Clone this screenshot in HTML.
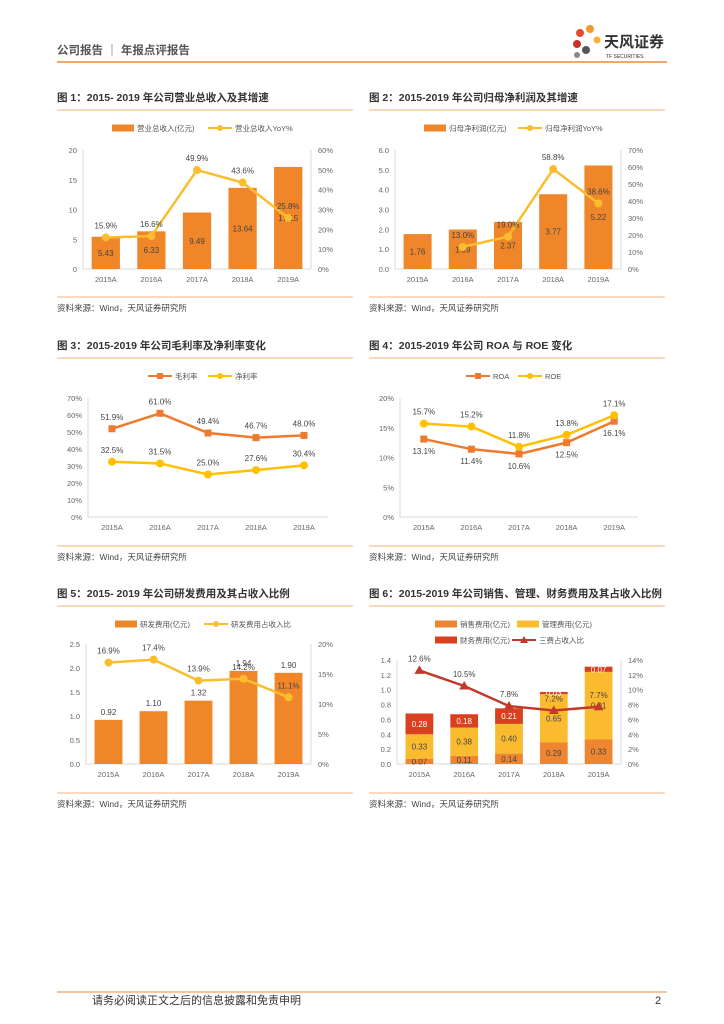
<!DOCTYPE html>
<html><head><meta charset="utf-8">
<style>
body{margin:0;background:#fff;}
svg{display:block;font-family:"Liberation Sans","Noto Sans CJK SC",sans-serif;}
</style></head>
<body>
<svg id="pg" width="724" height="1024" viewBox="0 0 724 1024">
<g>
<text x="57" y="54" font-size="11.5" font-weight="bold" fill="#555">公司报告 ｜ 年报点评报告</text>
<line x1="57" y1="62" x2="667" y2="62" stroke="#EE8C3A" stroke-width="1.5"/>
<g>
<circle cx="580" cy="33" r="4" fill="#E94B2B"/><circle cx="590" cy="29" r="4" fill="#F29A2E"/>
<circle cx="577" cy="44" r="4" fill="#C8322A"/><circle cx="586" cy="50" r="4" fill="#555"/>
<circle cx="597" cy="40" r="3.5" fill="#F5B335"/><circle cx="577" cy="55" r="3" fill="#888"/>
<text x="604" y="47" font-size="15" font-weight="bold" fill="#333">天风证券</text>
<text x="606" y="58" font-size="5" fill="#333">TF SECURITIES</text>
</g>
</g>
<g>
<line x1="57" y1="992" x2="667" y2="992" stroke="#EE8C3A" stroke-width="1"/>
<text x="92" y="1004" font-size="11" fill="#333">请务必阅读正文之后的信息披露和免责申明</text>
<text x="655" y="1004" font-size="11" fill="#333">2</text>
</g>
</svg>
<script>
const cats=['2015A','2016A','2017A','2018A','2019A'];
const revenue=[5.43,6.33,9.49,13.64,17.15];
const revenueYoY=[15.9,16.6,49.9,43.6,25.8];
const profit=[1.76,1.99,2.37,3.77,5.22];
const profitYoY=[null,13.0,19.0,58.8,38.6];
const grossMargin=[51.9,61.0,49.4,46.7,48.0];
const netMargin=[32.5,31.5,25.0,27.6,30.4];
const roa=[13.1,11.4,10.6,12.5,16.1];
const roe=[15.7,15.2,11.8,13.8,17.1];
const rdExpense=[0.92,1.10,1.32,1.94,1.90];
const rdRatio=[16.9,17.4,13.9,14.2,11.1];
const salesExp=[0.07,0.11,0.14,0.29,0.33];
const adminExp=[0.33,0.38,0.40,0.65,0.91];
const finExp=[0.28,0.18,0.21,0.03,0.07];
const expRatio=[12.6,10.5,7.8,7.2,7.7];
const NS='http://www.w3.org/2000/svg';
const pg=document.getElementById('pg');
function mk(tag,attrs,parent,txt){const e=document.createElementNS(NS,tag);for(const k in attrs)e.setAttribute(k,attrs[k]);if(txt!==undefined)e.textContent=txt;(parent||pg).appendChild(e);return e;}
const ORANGE='#F0862A',YELLOW='#FBBD2E';
function frame(g,c,title){
  let t=mk('text',{x:c.fx,y:c.ty,'font-size':10.5,'font-weight':'bold',fill:'#333'},g,title);
  
  
  let l=mk('line',{x1:c.fx,x2:c.fx+296,y1:c.ty+9,y2:c.ty+9,stroke:'#F3B27A','stroke-width':1},g);
  
  
  let l2=mk('line',{x1:c.fx,x2:c.fx+296,y1:c.sy,y2:c.sy,stroke:'#F3B27A','stroke-width':1},g);
  
  
  let s=mk('text',{x:c.fx,y:c.sy+14,'font-size':8.5,fill:'#444'},g,'资料来源：Wind，天风证券研究所');
  
  
}
function axes(g,c){
  const ly=v=>c.bot-(v/c.lmax)*(c.bot-c.top);
  const ry=v=>c.bot-(v/c.rmax)*(c.bot-c.top);
  const cx=i=>c.x0+(i+0.5)*(c.x1-c.x0)/5;
  let a=mk('line',{x1:c.x0,x2:c.x0,y1:c.top,y2:c.bot,stroke:'#D9D9D9'},g);
  
  
  let b=mk('line',{x1:c.x0,x2:c.x1,y1:c.bot,y2:c.bot,stroke:'#D9D9D9'},g);
  
  
  if(c.rmax){let r=mk('line',{x1:c.x1,x2:c.x1,y1:c.top,y2:c.bot,stroke:'#D9D9D9'},g);
  
  }
  for(let v=0;v<=c.lmax+1e-9;v+=c.lstep){
    let t=mk('text',{x:c.x0-6,y:ly(v)+3,'font-size':7.5,fill:'#666','text-anchor':'end'},g,c.lfmt(v));
    
    
  }
  if(c.rmax)for(let v=0;v<=c.rmax+1e-9;v+=c.rstep){
    let t=mk('text',{x:c.x1+7,y:ry(v)+3,'font-size':7.5,fill:'#666'},g,Math.round(v)+'%');
    
    
  }
  cats.forEach((k,i)=>{let t=mk('text',{x:cx(i),y:c.bot+13,'font-size':7.5,fill:'#666','text-anchor':'middle'},g,k);
    
    });
  return {ly,ry,cx,bw:(c.x1-c.x0)/5*0.62};
}
function bars(g,A,vals,pos,fmt,y0s,color){
  vals.forEach((v,i)=>{
    const b0=y0s?y0s[i]:0;
    const yt=A.ly(b0+v),yb=A.ly(b0);
    let r=mk('rect',{x:A.cx(i)-A.bw/2,y:yt,width:A.bw,height:yb-yt,fill:color||ORANGE},g);
    
    
    if(fmt){const ty=pos==='above'?yt-5:(yt+yb)/2+3;
    let t=mk('text',{x:A.cx(i),y:ty,'font-size':8,fill:color==='#D9401F'?'#fff':'#444','text-anchor':'middle'},g,fmt(v));
    
    }
  });
}
function line(g,A,vals,color,labelPos,marker){
  const pts=[];vals.forEach((v,i)=>{if(v!==null)pts.push([A.cx(i),A.ry(v),v]);});
  let p=mk('polyline',{points:pts.map(p=>p[0]+','+p[1]).join(' '),fill:'none',stroke:color,'stroke-width':2.5},g);
  
  
  pts.forEach(q=>{
    let m;
    if(marker==='tri')m=mk('path',{d:`M${q[0]},${q[1]-5}L${q[0]+5},${q[1]+3.5}L${q[0]-5},${q[1]+3.5}Z`,fill:color},g);
    else if(marker==='sq')m=mk('rect',{x:q[0]-3.5,y:q[1]-3.5,width:7,height:7,fill:color},g);
    else m=mk('circle',{cx:q[0],cy:q[1],r:4,fill:color},g);
    
    
    let t=mk('text',{x:q[0],y:labelPos==='below'?q[1]+15:q[1]-9,'font-size':8,fill:'#444','text-anchor':'middle'},g,q[2].toFixed(1)+'%');
    
    
  });
}
function legend(g,items,y){
  items.forEach(it=>{
    let s;
    if(it.type==='bar')s=mk('rect',{x:it.x,y:y-3.5,width:22,height:7,fill:it.color},g);
    else{s=mk('g',{},g);mk('line',{x1:it.x,x2:it.x+24,y1:y,y2:y,stroke:it.color,'stroke-width':2},s);
      if(it.m==='tri')mk('path',{d:`M${it.x+12},${y-4}L${it.x+16},${y+3}L${it.x+8},${y+3}Z`,fill:it.color},s);
      else if(it.m==='sq')mk('rect',{x:it.x+9,y:y-3,width:6,height:6,fill:it.color},s);
      else mk('circle',{cx:it.x+12,cy:y,r:3,fill:it.color},s);}
    
    
    let t=mk('text',{x:it.x+(it.type==='bar'?25:27),y:y+3,'font-size':7.5,fill:'#555'},g,it.label);
    
    
  });
}
function group(name){const g=mk('g',{});return g;}
const f1=v=>v.toFixed(1), f0=v=>String(v), pct=v=>Math.round(v)+'%';

// Chart 1
let g=group('chart-revenue');
frame(g,{fx:57,ty:101,sy:297},'图 1：2015- 2019 年公司营业总收入及其增速');
let A=axes(g,{x0:83,x1:311,top:150,bot:269,lmax:20,lstep:5,lfmt:f0,rmax:60,rstep:10});
bars(g,A,revenue,'mid',v=>v.toFixed(2));
line(g,A,revenueYoY,YELLOW);
legend(g,[{type:'bar',x:112,color:ORANGE,label:'营业总收入(亿元)'},{type:'line',x:208,color:YELLOW,label:'营业总收入YoY%'}],128);

// Chart 2
g=group('chart-net-profit');
frame(g,{fx:369,ty:101,sy:297},'图 2：2015-2019 年公司归母净利润及其增速');
A=axes(g,{x0:395,x1:621,top:150,bot:269,lmax:6,lstep:1,lfmt:f1,rmax:70,rstep:10});
bars(g,A,profit,'mid',v=>v.toFixed(2));
line(g,A,profitYoY,YELLOW);
legend(g,[{type:'bar',x:424,color:ORANGE,label:'归母净利润(亿元)'},{type:'line',x:518,color:YELLOW,label:'归母净利润YoY%'}],128);

// Chart 3
g=group('chart-margins');
frame(g,{fx:57,ty:349,sy:546},'图 3：2015-2019 年公司毛利率及净利率变化');
A=axes(g,{x0:88,x1:328,top:398,bot:517,lmax:70,lstep:10,lfmt:pct});
A.ry=A.ly;
line(g,A,grossMargin,'#EE7B2D','above','sq');
line(g,A,netMargin,'#FFC000','above');
legend(g,[{type:'line',x:148,color:'#EE7B2D',m:'sq',label:'毛利率'},{type:'line',x:208,color:'#FFC000',label:'净利率'}],376);

// Chart 4
g=group('chart-roa-roe');
frame(g,{fx:369,ty:349,sy:546},'图 4：2015-2019 年公司 ROA 与 ROE 变化');
A=axes(g,{x0:400,x1:638,top:398,bot:517,lmax:20,lstep:5,lfmt:pct});
A.ry=A.ly;
line(g,A,roa,'#EE7B2D','below','sq');
line(g,A,roe,'#FFC000','above');
legend(g,[{type:'line',x:466,color:'#EE7B2D',m:'sq',label:'ROA'},{type:'line',x:518,color:'#FFC000',label:'ROE'}],376);

// Chart 5
g=group('chart-rd');
frame(g,{fx:57,ty:597,sy:793},'图 5：2015- 2019 年公司研发费用及其占收入比例');
A=axes(g,{x0:86,x1:311,top:644,bot:764,lmax:2.5,lstep:0.5,lfmt:f1,rmax:20,rstep:5});
bars(g,A,rdExpense,'above',v=>v.toFixed(2));
line(g,A,rdRatio,YELLOW);
legend(g,[{type:'bar',x:115,color:ORANGE,label:'研发费用(亿元)'},{type:'line',x:204,color:YELLOW,label:'研发费用占收入比'}],624);

// Chart 6
g=group('chart-expenses');
frame(g,{fx:369,ty:597,sy:793},'图 6：2015-2019 年公司销售、管理、财务费用及其占收入比例');
A=axes(g,{x0:397,x1:621,top:660,bot:764,lmax:1.4,lstep:0.2,lfmt:f1,rmax:14,rstep:2});
bars(g,A,salesExp,'mid',v=>v.toFixed(2),null,'#EE8530');
const base2=salesExp.map((v,i)=>v);
bars(g,A,adminExp,'mid',v=>v.toFixed(2),base2,'#FBBB2F');
const base3=salesExp.map((v,i)=>v+adminExp[i]);
bars(g,A,finExp,'mid',v=>v.toFixed(2),base3,'#D9401F');
line(g,A,expRatio,'#C0392B','above','tri');
legend(g,[{type:'bar',x:435,color:'#EE8530',label:'销售费用(亿元)'},{type:'bar',x:517,color:'#FBBB2F',label:'管理费用(亿元)'}],624);
legend(g,[{type:'bar',x:435,color:'#D9401F',label:'财务费用(亿元)'},{type:'line',x:512,color:'#C0392B',m:'tri',label:'三费占收入比'}],640);
</script>
</body></html>
